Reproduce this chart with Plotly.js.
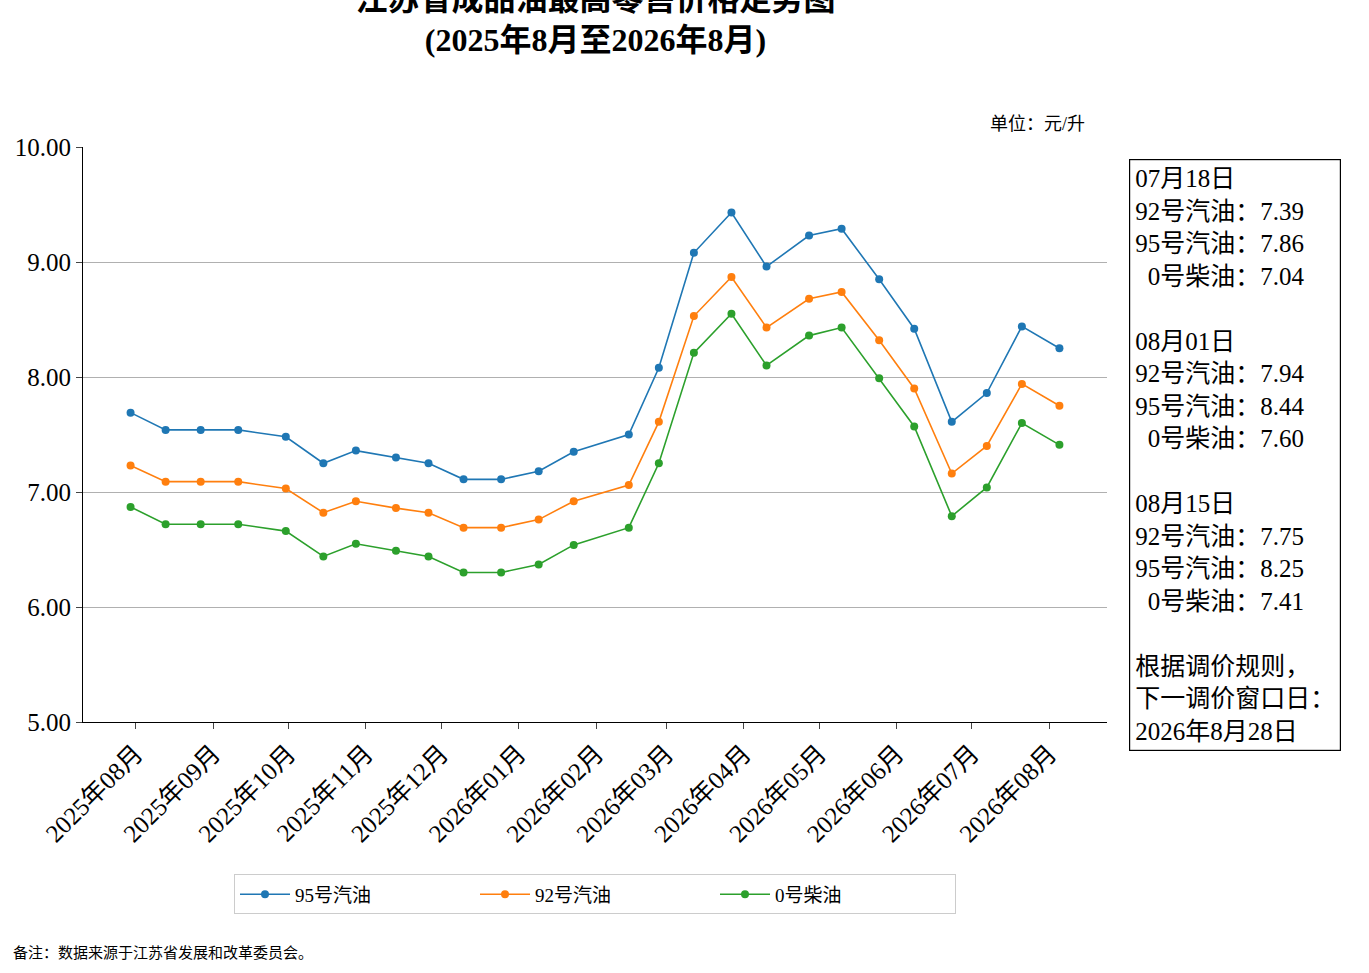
<!DOCTYPE html>
<html>
<head>
<meta charset="utf-8">
<script src="https://cdn.plot.ly/plotly-3.0.1.min.js"></script>
<style>body{margin:0;background:#fff}#chart{width:1369px;height:973px}</style>
</head>
<body>
<div id="chart"></div>
<script>
/* ─── Data ─── */
const dates = ['2025-07-30','2025-08-13','2025-08-27','2025-09-11','2025-09-30','2025-10-15',
  '2025-10-28','2025-11-13','2025-11-26','2025-12-10','2025-12-25','2026-01-09','2026-01-23',
  '2026-02-14','2026-02-26','2026-03-12','2026-03-27','2026-04-10','2026-04-27','2026-05-10',
  '2026-05-25','2026-06-08','2026-06-23','2026-07-07','2026-07-21','2026-08-05'];
const gas95 = [7.69,7.54,7.54,7.54,7.48,7.25,7.36,7.30,7.25,7.11,7.11,7.18,7.35,7.50,8.08,9.08,9.43,8.96,9.23,9.29,8.85,8.42,7.61,7.86,8.44,8.25];
const gas92 = [7.23,7.09,7.09,7.09,7.03,6.82,6.92,6.86,6.82,6.69,6.69,6.76,6.92,7.06,7.61,8.53,8.87,8.43,8.68,8.74,8.32,7.90,7.16,7.40,7.94,7.75];
const diesel0 = [6.87,6.72,6.72,6.72,6.66,6.44,6.55,6.49,6.44,6.30,6.30,6.37,6.54,6.69,7.25,8.21,8.55,8.10,8.36,8.43,7.99,7.57,6.79,7.04,7.60,7.41];
const tickVals = ['2025-08-01','2025-09-01','2025-10-01','2025-11-01','2025-12-01','2026-01-01',
  '2026-02-01','2026-03-01','2026-04-01','2026-05-01','2026-06-01','2026-07-01','2026-08-01'];
const tickText = ['2025年08月','2025年09月','2025年10月','2025年11月','2025年12月','2026年01月',
  '2026年02月','2026年03月','2026年04月','2026年05月','2026年06月','2026年07月','2026年08月'];
const seriesNames = ['95号汽油','92号汽油','0号柴油'];
const seriesColors = ['#1f77b4','#ff7f0e','#2ca02c'];

const SERIF = '"Liberation Serif","Times New Roman","Noto Sans CJK SC",serif';

const traces = [gas95, gas92, diesel0].map((y, i) => ({
  x: dates, y: y,
  mode: 'lines+markers',
  name: seriesNames[i],
  line: { color: seriesColors[i], width: 1.6 },
  marker: { color: seriesColors[i], size: 8 },
}));

const boxText = '07月18日<br>92号汽油：7.39<br>95号汽油：7.86<br>  0号柴油：7.04<br><br>' +
  '08月01日<br>92号汽油：7.94<br>95号汽油：8.44<br>  0号柴油：7.60<br><br>' +
  '08月15日<br>92号汽油：7.75<br>95号汽油：8.25<br>  0号柴油：7.41<br><br>' +
  '根据调价规则，<br>下一调价窗口日：<br>2026年8月28日';

const layout = {
  paper_bgcolor: '#fff',
  plot_bgcolor: '#fff',
  font: { family: SERIF, color: '#000', size: 18 },
  margin: { l: 83, r: 262, t: 147, b: 251 },
  showlegend: true,
  title: {
    text: '<b>江苏省成品油最高零售价格走势图</b><br><b>(2025年8月至2026年8月)</b>',
    xref: 'container', yref: 'container',
    x: 0.435, xanchor: 'center', y: 0.99, yanchor: 'top',
    font: { size: 32, family: SERIF },
  },
  legend: {
    orientation: 'h', x: 0.5, xanchor: 'center', y: -0.265, yanchor: 'top',
    bordercolor: '#ccc', borderwidth: 1, font: { size: 19 },
    itemwidth: 50, entrywidth: 175,
  },
  xaxis: {
    type: 'date',
    range: ['2025-07-11', '2026-08-24'],
    tickvals: tickVals, ticktext: tickText,
    tickangle: -45, ticks: 'outside', ticklen: 6,
    showgrid: false, showline: true, linecolor: '#000',
    tickfont: { size: 25 },
  },
  yaxis: {
    range: [5, 10], dtick: 1, tickformat: '.2f',
    ticks: 'outside', ticklen: 6,
    showgrid: true, gridcolor: '#b0b0b0',
    showline: true, linecolor: '#000', zeroline: false,
    tickfont: { size: 25 },
  },
  annotations: [
    { xref: 'paper', yref: 'paper', x: 0.98, y: 1.02, xanchor: 'right', yanchor: 'bottom',
      text: '单位：元/升', showarrow: false, font: { size: 18 } },
    { xref: 'paper', yref: 'paper', x: 1.021, y: 0.98, xanchor: 'left', yanchor: 'top',
      text: boxText, align: 'left', showarrow: false, font: { size: 25 },
      bordercolor: '#000', borderwidth: 1.2, borderpad: 5, bgcolor: '#fff' },
    { xref: 'paper', yref: 'paper', x: -0.07, y: -0.385, xanchor: 'left', yanchor: 'top',
      text: '备注：数据来源于江苏省发展和改革委员会。', showarrow: false, font: { size: 15 } },
  ],
};

Plotly.newPlot('chart', traces, layout, { displayModeBar: false, staticPlot: true });
</script>
</body>
</html>
